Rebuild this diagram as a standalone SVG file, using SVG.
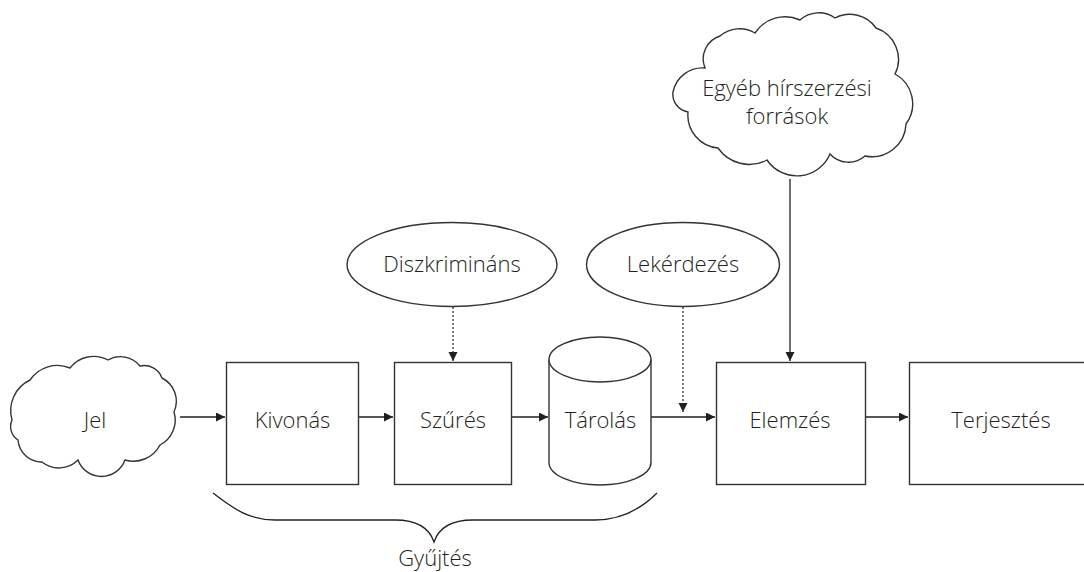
<svg xmlns="http://www.w3.org/2000/svg" width="1084" height="572" viewBox="0 0 1084 572">
<defs>
<style>
.shape{fill:#fff;stroke:#333;stroke-width:1.4}
.line{fill:none;stroke:#231f20;stroke-width:1.3}
.dot{fill:none;stroke:#231f20;stroke-width:1.2;stroke-dasharray:2,2}
.t{font-family:"Open Sans","Liberation Sans",sans-serif;font-size:22px;font-weight:300;fill:#231f20;text-anchor:middle}
</style>
<marker id="ah" markerUnits="userSpaceOnUse" markerWidth="10" markerHeight="10" refX="9" refY="4.5" orient="auto">
<path d="M0,0 L9,4.5 L0,9 z" fill="#231f20"/>
</marker>
</defs>
<rect width="1084" height="572" fill="#fff"/>
<g id="connectors">
<line class="line" x1="180" y1="417" x2="225" y2="417" marker-end="url(#ah)"/>
<line class="line" x1="359" y1="417" x2="393" y2="417" marker-end="url(#ah)"/>
<line class="line" x1="512" y1="417" x2="548" y2="417" marker-end="url(#ah)"/>
<line class="line" x1="651" y1="417" x2="715" y2="417" marker-end="url(#ah)"/>
<line class="line" x1="866" y1="417" x2="908" y2="417" marker-end="url(#ah)"/>
<line class="dot" x1="453" y1="307" x2="453" y2="361" marker-end="url(#ah)"/>
<line class="dot" x1="683" y1="307" x2="683" y2="412" marker-end="url(#ah)"/>
<line class="line" x1="790" y1="179" x2="790" y2="361" marker-end="url(#ah)"/>
</g>
<g id="jel">
<path class="shape" d="M12,420 A34,34 0 0 1 30,380 A33,33 0 0 1 70,368 A30,30 0 0 1 108,360 A25,25 0 0 1 140,366 A19,19 0 0 1 162,378 A26,26 0 0 1 174,412 A28,28 0 0 1 160,445 A30,30 0 0 1 125,460 A25,25 0 0 1 78,460 A27,27 0 0 1 42,462 A24,24 0 0 1 18,440 A16,16 0 0 1 12,420 z"/>
<text class="t" x="95" y="428">Jel</text>
</g>
<g id="kivonas">
<rect class="shape" x="226.5" y="362.5" width="132" height="122"/>
<text class="t" x="292.5" y="428">Kivonás</text>
</g>
<g id="szures">
<rect class="shape" x="394.5" y="362.5" width="117" height="122"/>
<text class="t" x="453" y="428">Szűrés</text>
</g>
<g id="tarolas">
<path class="shape" d="M549,359.5 L549,462.5 A51,22.5 0 0 0 651,462.5 L651,359.5"/>
<ellipse class="shape" cx="600" cy="359.5" rx="51" ry="22.5"/>
<text class="t" x="600.5" y="428">Tárolás</text>
</g>
<g id="elemzes">
<rect class="shape" x="716.5" y="362.5" width="149" height="122"/>
<text class="t" x="790" y="428">Elemzés</text>
</g>
<g id="terjesztes">
<rect class="shape" x="909.5" y="362.5" width="180" height="122"/>
<text class="t" x="1001" y="428">Terjesztés</text>
</g>
<g id="diszkriminans">
<ellipse class="shape" cx="452" cy="264.5" rx="105" ry="42"/>
<text class="t" x="452" y="272">Diszkrimináns</text>
</g>
<g id="lekerdezes">
<ellipse class="shape" cx="683" cy="264.5" rx="96.5" ry="42"/>
<text class="t" x="683" y="272">Lekérdezés</text>
</g>
<g id="egyeb">
<path class="shape" d="M673,92 A30,30 0 0 1 705,68 A24,24 0 0 1 720,36 A30,30 0 0 1 755,33 A36,36 0 0 1 800,20 A28,28 0 0 1 835,18 A32,32 0 0 1 876,28 A33,33 0 0 1 895,74 A34,34 0 0 1 906,124 A34,34 0 0 1 865,156 A25,25 0 0 1 830,154 A36,36 0 0 1 767,160 A38,38 0 0 1 718,148 A33,33 0 0 1 688,112 A18,18 0 0 1 673,92 z"/>
<text class="t" x="787" y="96">Egyéb hírszerzési</text>
<text class="t" x="787" y="124">források</text>
</g>
<g id="gyujtes">
<path class="line" d="M213,493 C235,510 250,520 275,520 L395,520 C420,520 430,530 434,542 C438,530 448,520 473,520 L595,520 C620,520 640,510 657,493"/>
<text class="t" x="435" y="566">Gyűjtés</text>
</g>
</svg>
